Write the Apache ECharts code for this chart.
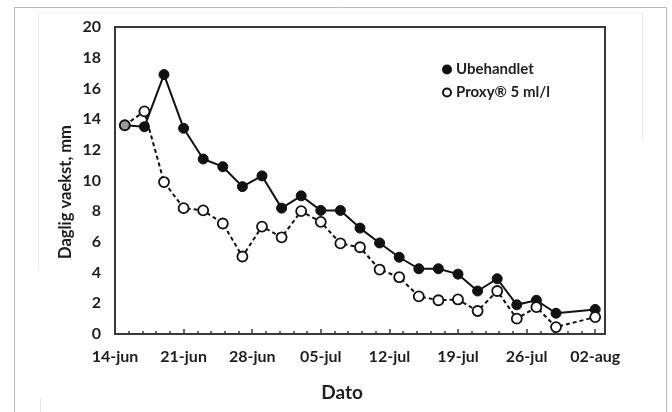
<!DOCTYPE html>
<html>
<head>
<meta charset="utf-8">
<script src="https://cdn.jsdelivr.net/npm/echarts@6/dist/echarts.min.js"></script>
<style>
html,body{margin:0;padding:0;background:#fff;}
#c{width:672px;height:412px;}
</style>
</head>
<body>
<div id="c"></div>
<script>
// Days since 14-jun for each measurement
var dayOffsets = [1,3,5,7,9,11,13,15,17,19,21,23,25,27,29,31,33,35,37,39,41,43,45,49];
var ubehandlet = [13.6,13.5,16.9,13.4,11.4,10.9,9.6,10.3,8.2,9.0,8.05,8.05,6.9,5.93,5.0,4.25,4.25,3.9,2.8,3.6,1.9,2.2,1.35,1.6];
var proxy = [13.6,14.5,9.9,8.2,8.05,7.2,5.05,7.0,6.3,8.0,7.3,5.9,5.65,4.2,3.7,2.45,2.2,2.25,1.5,2.8,1.0,1.75,0.45,1.1];
var xTickLabels = ["14-jun","21-jun","28-jun","05-jul","12-jul","19-jul","26-jul","02-aug"];
var seriesNames = ["Ubehandlet","Proxy\u00AE 5 ml/l"];

var FONT = 'Lato';
var TXT = '#1e1e1e';

function pairs(vals){ return vals.map(function(v,i){ return [dayOffsets[i], v]; }); }

var proxyData = pairs(proxy).map(function(p,i){
  if(i===0){ return {value:p, itemStyle:{color:'#9a9a9a'}}; }
  return p;
});

var chart = echarts.init(document.getElementById('c'), null, {renderer:'canvas'});
chart.setOption({
  animation:false,
  backgroundColor:'#fff',
  grid:{left:115,right:67,top:27,bottom:78,show:true,borderColor:'#3a3a3a',borderWidth:2,backgroundColor:'transparent'},
  legend:{
    orient:'vertical',left:437,top:57,itemWidth:8,itemHeight:8,itemGap:8,
    textStyle:{fontFamily:FONT,fontWeight:'bold',fontSize:15,color:TXT},
    data:[{name:seriesNames[0],icon:'circle'},{name:seriesNames[1],icon:'circle'}]
  },
  xAxis:{
    type:'value',min:0,max:50,interval:7,
    axisLine:{lineStyle:{color:'#3a3a3a',width:2}},
    axisTick:{show:true,inside:true,length:5,lineStyle:{color:'#3a3a3a',width:1.5}},
    minorTick:{show:true,splitNumber:5,length:3,lineStyle:{color:'#3a3a3a',width:1.5}},
    splitLine:{show:false},
    axisLabel:{margin:15,fontFamily:FONT,fontWeight:'bold',fontSize:16,color:TXT,
      formatter:function(v){ var k=v/7; return (Math.abs(k-Math.round(k))<1e-6 && xTickLabels[Math.round(k)]) ? xTickLabels[Math.round(k)] : ''; }}
  },
  yAxis:{
    type:'value',min:0,max:20,interval:2,
    axisLine:{show:true,lineStyle:{color:'#3a3a3a',width:2}},
    axisTick:{show:false},
    splitLine:{show:false},
    axisLabel:{margin:14,fontFamily:FONT,fontWeight:'bold',fontSize:16,color:TXT}
  },
  graphic:[
    {type:'rect',silent:true,z:-1,shape:{x:14.5,y:7.5,width:652,height:420},style:{fill:null,stroke:'#b8b8b8',lineWidth:1}},
    {type:'line',silent:true,z:-1,shape:{x1:38.5,y1:12.5,x2:643.5,y2:12.5},style:{stroke:'#f0f0f0',lineWidth:1}},
    {type:'line',silent:true,z:-1,shape:{x1:38.5,y1:12.5,x2:38.5,y2:270},style:{stroke:'#ececec',lineWidth:1}},
    {type:'line',silent:true,z:-1,shape:{x1:642.5,y1:12.5,x2:642.5,y2:140},style:{stroke:'#ececec',lineWidth:1}},
    {type:'line',silent:true,z:-1,shape:{x1:40.5,y1:398,x2:40.5,y2:412},style:{stroke:'#e4e4e4',lineWidth:1}},
    {type:'text',silent:true,x:66,y:192,rotation:Math.PI/2,
      style:{text:'Daglig vaekst, mm',fontFamily:FONT,fontWeight:'bold',fontSize:16.5,fill:TXT,align:'center',verticalAlign:'middle'}},
    {type:'text',silent:true,x:342,y:393,
      style:{text:'Dato',fontFamily:FONT,fontWeight:'bold',fontSize:19,fill:TXT,align:'center',verticalAlign:'middle'}}
  ],
  series:[
    {name:seriesNames[0],type:'line',data:pairs(ubehandlet),symbol:'circle',symbolSize:10,
      lineStyle:{color:'#111',width:2},itemStyle:{color:'#111',borderColor:'#111',borderWidth:1},z:2},
    {name:seriesNames[1],type:'line',data:proxyData,symbol:'circle',symbolSize:10,
      lineStyle:{color:'#111',width:2,type:[4,3]},itemStyle:{color:'#fff',borderColor:'#111',borderWidth:1.8},z:3}
  ]
});
</script>
</body>
</html>
